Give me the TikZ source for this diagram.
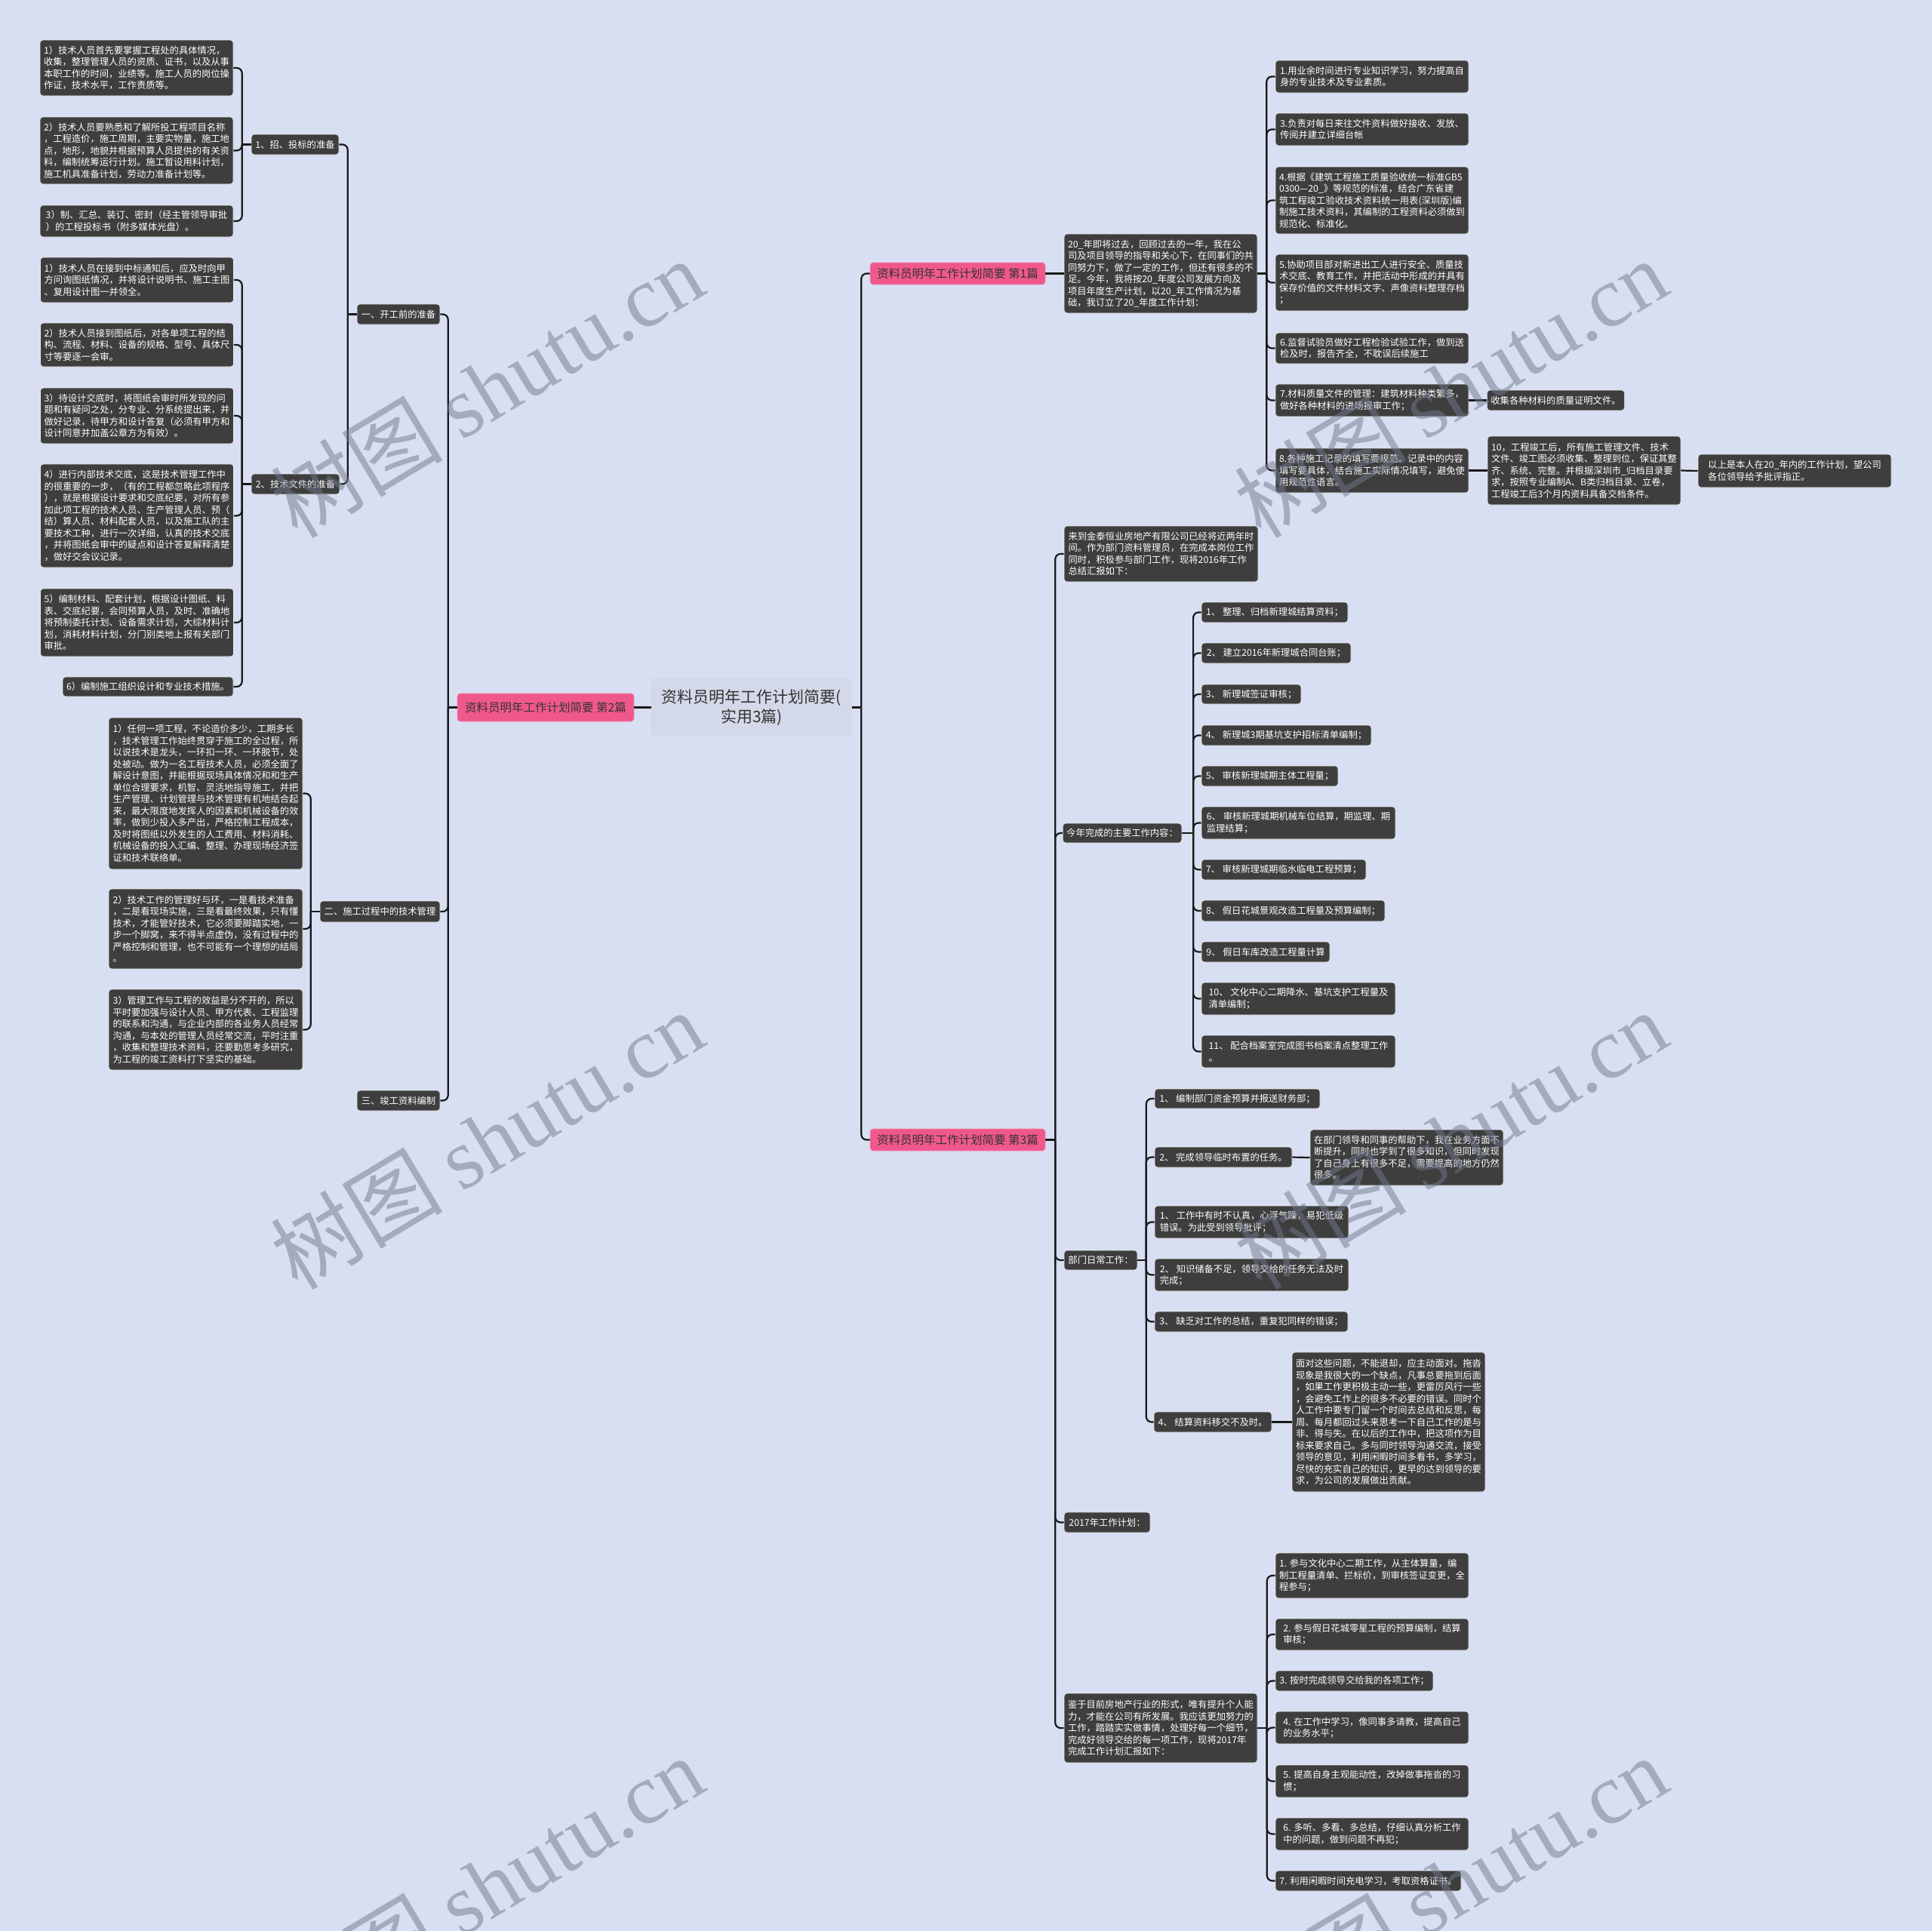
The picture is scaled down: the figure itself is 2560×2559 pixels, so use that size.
\documentclass[tikz,border=0pt]{standalone}
\usepackage{fontspec}
\newfontfamily\cjk{Noto Sans CJK SC}
\newfontfamily\wmserif{Liberation Serif}
\definecolor{bgc}{RGB}{217,223,242}
\definecolor{nodefill}{RGB}{62,62,62}
\definecolor{linec}{RGB}{25,25,25}
\definecolor{pinkc}{RGB}{240,88,140}
\definecolor{rootc}{RGB}{211,217,232}
\definecolor{darktext}{RGB}{51,51,51}
\definecolor{wmc}{RGB}{113,121,142}
\tikzset{
  box/.style={rectangle, rounded corners=4pt, fill=nodefill, draw=white!85!gray, line width=0.6pt,
    text=white, font=\cjk\fontsize{12.3}{15.5}\selectfont, align=left, inner xsep=5pt, inner ysep=2pt},
  pinkbox/.style={box, fill=pinkc, draw=pinkc!70!white, text=darktext, font=\cjk\fontsize{15.5}{19}\selectfont},
  rootbox/.style={box, fill=rootc, draw=rootc, text=darktext, font=\cjk\fontsize{21}{26}\selectfont, align=center},
  conn/.style={draw=linec, line width=2.2pt},
  elbow/.style={conn, rounded corners=7pt},
  wm/.style={text=wmc, opacity=0.5, font=\cjk\fontsize{114}{120}\selectfont, inner sep=0pt}
}
\newcommand\mybox[7][box]{%
  \pgfmathsetmacro\mybw{#5-#3}%
  \pgfmathsetmacro\mybh{#6-#4}%
  \pgfmathsetmacro\mycx{(#3+#5)/2}%
  \pgfmathsetmacro\mycy{(#4+#6)/2}%
  \node[#1, minimum width=\mybw pt, minimum height=\mybh pt] (#2) at (\mycx,\mycy) {#7};%
}
\begin{document}
\begin{tikzpicture}[x=1pt,y=-1pt]
\fill[bgc] (0,0) rectangle (2560,2559);
\useasboundingbox (0,0) rectangle (2560,2559);

% ---------------- root and pink ----------------
\mybox[rootbox]{root}{863}{899}{1129}{976}{资料员明年工作计划简要(\\实用3篇)}
\mybox[pinkbox]{pa}{1153}{348}{1385}{377}{资料员明年工作计划简要 第1篇}
\mybox[pinkbox]{pb}{606}{919}{840}{956}{资料员明年工作计划简要 第2篇}
\mybox[pinkbox]{pc}{1153}{1496}{1385}{1525}{资料员明年工作计划简要 第3篇}

% ---------------- left (第2篇) ----------------
\mybox{L1a}{53}{53}{309}{127}{1）技术人员首先要掌握工程处的具体情况，\\收集，整理管理人员的资质、证书，以及从事\\本职工作的时间，业绩等。施工人员的岗位操\\作证，技术水平，工作责质等。}
\mybox{L1b}{53}{155}{309}{244}{2）技术人员要熟悉和了解所投工程项目名称\\，工程造价，施工周期，主要实物量，施工地\\点，地形，地貌并根据预算人员提供的有关资\\料，编制统筹运行计划。施工暂设用料计划，\\施工机具准备计划，劳动力准备计划等。}
\mybox{L1c}{53}{272}{309}{314}{3）制、汇总、装订、密封（经主管领导审批\\）的工程投标书（附多媒体光盘）。}
\mybox{n11}{333}{178}{449}{205}{1、招、投标的准备}

\mybox{L2a}{54}{341}{309}{401}{1）技术人员在接到中标通知后，应及时向甲\\方问询图纸情况，并将设计说明书、施工主图\\、复用设计图一并领全。}
\mybox{L2b}{54}{428}{309}{486}{2）技术人员接到图纸后，对各单项工程的结\\构、流程、材料、设备的规格、型号、具体尺\\寸等要逐一会审。}
\mybox{L2c}{54}{514}{309}{588}{3）待设计交底时，将图纸会审时所发现的问\\题和有疑问之处，分专业、分系统提出来，并\\做好记录，待甲方和设计答复（必须有甲方和\\设计同意并加盖公章方为有效）。}
\mybox{L2d}{54}{615}{309}{752}{4）进行内部技术交底，这是技术管理工作中\\的很重要的一步，（有的工程都忽略此项程序\\），就是根据设计要求和交底纪要，对所有参\\加此项工程的技术人员、生产管理人员、预（\\结）算人员、材料配套人员，以及施工队的主\\要技术工种，进行一次详细，认真的技术交底\\，并将图纸会审中的疑点和设计答复解释清楚\\，做好交会议记录。}
\mybox{L2e}{54}{780}{309}{870}{5）编制材料、配套计划，根据设计图纸、料\\表、交底纪要，会同预算人员，及时、准确地\\将预制委托计划、设备需求计划，大综材料计\\划，消耗材料计划，分门别类地上报有关部门\\审批。}
\mybox{L2f}{83}{897}{309}{923}{6）编制施工组织设计和专业技术措施。}
\mybox{n12}{333}{628}{450}{655}{2、技术文件的准备}
\mybox{n1}{473}{403}{583}{430}{一、开工前的准备}

\mybox{L3a}{144}{951}{401}{1152}{1）任何一项工程，不论造价多少，工期多长\\，技术管理工作始终贯穿于施工的全过程，所\\以说技术是龙头，一环扣一环、一环脱节，处\\处被动。做为一名工程技术人员，必须全面了\\解设计意图，并能根据现场具体情况和和生产\\单位合理要求，机智、灵活地指导施工，并把\\生产管理、计划管理与技术管理有机地结合起\\来，最大限度地发挥人的因素和机械设备的效\\率，做到少投入多产出，严格控制工程成本，\\及时将图纸以外发生的人工费用、材料消耗、\\机械设备的投入汇编、整理、办理现场经济签\\证和技术联络单。}
\mybox{L3b}{144}{1178}{401}{1284}{2）技术工作的管理好与环，一是看技术准备\\，二是看现场实施，三是看最终效果，只有懂\\技术，才能管好技术，它必须要脚踏实地，一\\步一个脚窝，来不得半点虚伪，没有过程中的\\严格控制和管理，也不可能有一个理想的结局\\。}
\mybox{L3c}{144}{1311}{401}{1418}{3）管理工作与工程的效益是分不开的，所以\\平时要加强与设计人员、甲方代表、工程监理\\的联系和沟通，与企业内部的各业务人员经常\\沟通，与本处的管理人员经常交流，平时注重\\，收集和整理技术资料，还要勤思考多研究，\\为工程的竣工资料打下坚实的基础。}
\mybox{n2}{424}{1194}{583}{1222}{二、施工过程中的技术管理}
\mybox{n3}{473}{1445}{583}{1472}{三、竣工资料编制}

% ---------------- right (第1篇) ----------------
\mybox{R1i}{1410}{310}{1666}{415}{20\_年即将过去，回顾过去的一年，我在公\\司及项目领导的指导和关心下，在同事们的共\\同努力下，做了一定的工作，但还有很多的不\\足。今年，我将按20\_年度公司发展方向及\\项目年度生产计划，以20\_年工作情况为基\\础，我订立了20\_年度工作计划：}
\mybox{R1a}{1690}{80}{1946}{123}{1.用业余时间进行专业知识学习，努力提高自\\身的专业技术及专业素质。}
\mybox{R1c}{1690}{150}{1946}{193}{3.负责对每日来往文件资料做好接收、发放、\\传阅并建立详细台帐}
\mybox{R1d}{1690}{221}{1946}{310}{4.根据《建筑工程施工质量验收统一标准GB5\\0300—20\_》等规范的标准，结合广东省建\\筑工程竣工验收技术资料统一用表(深圳版)编\\制施工技术资料，其编制的工程资料必须做到\\规范化、标准化。}
\mybox{R1e}{1690}{337}{1946}{412}{5.协助项目部对新进出工人进行安全、质量技\\术交底、教育工作，并把活动中形成的并具有\\保存价值的文件材料文字、声像资料整理存档\\；}
\mybox{R1f}{1690}{441}{1946}{482}{6.监督试验员做好工程检验试验工作，做到送\\检及时，报告齐全，不耽误后续施工}
\mybox{R1g}{1690}{509}{1946}{552}{7.材料质量文件的管理：建筑材料种类繁多，\\做好各种材料的进场报审工作；}
\mybox{R1gc}{1971}{517}{2152}{544}{收集各种材料的质量证明文件。}
\mybox{R1h}{1690}{594}{1946}{653}{8.各种施工记录的填写要规范。记录中的内容\\填写要具体，结合施工实际情况填写，避免使\\用规范性语言。}
\mybox{R1hc}{1971}{578}{2227}{669}{10，工程竣工后，所有施工管理文件、技术\\文件、竣工图必须收集、整理到位，保证其整\\齐、系统、完整。并根据深圳市\_归档目录要\\求，按照专业编制A、B类归档目录、立卷，\\工程竣工后3个月内资料具备交档条件。}
\mybox{R1hcc}{2250}{602}{2506}{646}{以上是本人在20\_年内的工作计划，望公司\\各位领导给予批评指正。}

% ---------------- right (第3篇) ----------------
\mybox{R3i}{1410}{697}{1667}{771}{来到金泰恒业房地产有限公司已经将近两年时\\间。作为部门资料管理员，在完成本岗位工作\\同时，积极参与部门工作，现将2016年工作\\总结汇报如下：}
\mybox{R3y}{1409}{1091}{1565}{1117}{今年完成的主要工作内容：}
\mybox{I1}{1592}{798}{1786}{825}{1、 整理、归档新理城结算资料；}
\mybox{I2}{1592}{852}{1790}{879}{2、 建立2016年新理城合同台账；}
\mybox{I3}{1592}{907}{1724}{933}{3、 新理城签证审核；}
\mybox{I4}{1592}{961}{1817}{988}{4、 新理城3期基坑支护招标清单编制；}
\mybox{I5}{1592}{1015}{1773}{1042}{5、 审核新理城期主体工程量；}
\mybox{I6}{1592}{1069}{1849}{1112}{6、 审核新理城期机械车位结算，期监理、期\\监理结算；}
\mybox{I7}{1592}{1139}{1810}{1166}{7、 审核新理城期临水临电工程预算；}
\mybox{I8}{1592}{1193}{1835}{1221}{8、 假日花城景观改造工程量及预算编制；}
\mybox{I9}{1592}{1248}{1762}{1275}{9、 假日车库改造工程量计算}
\mybox{I10}{1592}{1302}{1849}{1345}{10、 文化中心二期降水、基坑支护工程量及\\清单编制；}
\mybox{I11}{1592}{1372}{1849}{1415}{11、 配合档案室完成图书档案清点整理工作\\。}

\mybox{R3d}{1410}{1657}{1507}{1683}{部门日常工作：}
\mybox{D1}{1530}{1443}{1749}{1469}{1、 编制部门资金预算并报送财务部；}
\mybox{D2}{1530}{1520}{1712}{1547}{2、 完成领导临时布置的任务。}
\mybox{D2c}{1736}{1497}{1992}{1571}{在部门领导和同事的帮助下，我在业务方面不\\断提升，同时也学到了很多知识，但同时发现\\了自己身上有很多不足，需要提高的地方仍然\\很多。}
\mybox{D3}{1530}{1598}{1787}{1641}{1、 工作中有时不认真，心浮气躁，易犯低级\\错误。为此受到领导批评；}
\mybox{D4}{1530}{1668}{1787}{1711}{2、 知识储备不足，领导交给的任务无法及时\\完成；}
\mybox{D5}{1530}{1738}{1786}{1765}{3、 缺乏对工作的总结，重复犯同样的错误；}
\mybox{D6}{1529}{1871}{1685}{1898}{4、 结算资料移交不及时。}
\mybox{D6c}{1712}{1792}{1968}{1977}{面对这些问题，不能退却，应主动面对。拖沓\\现象是我很大的一个缺点，凡事总要拖到后面\\，如果工作更积极主动一些，更雷厉风行一些\\，会避免工作上的很多不必要的错误。同时个\\人工作中要专门留一个时间去总结和反思，每\\周、每月都回过头来思考一下自己工作的是与\\非、得与失。在以后的工作中，把这项作为目\\标来要求自己。多与同时领导沟通交流，接受\\领导的意见，利用闲暇时间多看书，多学习，\\尽快的充实自己的知识，更早的达到领导的要\\求，为公司的发展做出贡献。}

\mybox{R3p}{1410}{2004}{1524}{2031}{2017年工作计划：}
\mybox{R3j}{1410}{2244}{1666}{2336}{鉴于目前房地产行业的形式，唯有提升个人能\\力，才能在公司有所发展。我应该更加努力的\\工作，踏踏实实做事情，处理好每一个细节，\\完成好领导交给的每一项工作，现将2017年\\完成工作计划汇报如下：}
\mybox{P1}{1690}{2058}{1946}{2118}{1. 参与文化中心二期工作，从主体算量，编\\制工程量清单、拦标价，到审核签证变更，全\\程参与；}
\mybox{P2}{1690}{2145}{1946}{2187}{2. 参与假日花城零星工程的预算编制，结算\\审核；}
\mybox{P3}{1690}{2214}{1899}{2241}{3. 按时完成领导交给我的各项工作；}
\mybox{P4}{1690}{2268}{1946}{2311}{4. 在工作中学习，像同事多请教，提高自己\\的业务水平；}
\mybox{P5}{1690}{2339}{1946}{2382}{5. 提高自身主观能动性，改掉做事拖沓的习\\惯；}
\mybox{P6}{1690}{2409}{1946}{2452}{6. 多听、多看、多总结，仔细认真分析工作\\中的问题，做到问题不再犯；}
\mybox{P7}{1690}{2479}{1936}{2506}{7. 利用闲暇时间充电学习，考取资格证书。}

% ---------------- connectors ----------------
% root
\draw[conn] (root.west) -- (pb.east);
\draw[conn] (root.east) -- ++(12,0) coordinate (tr);
\foreach \c in {pa,pc} \draw[elbow] (tr) |- (\c.west);

% left tree
\draw[conn] (pb.west) -- ++(-12,0) coordinate (tpb);
\foreach \c in {n1,n2,n3} \draw[elbow] (tpb) |- (\c.east);
\draw[conn] (n1.west) -- ++(-12,0) coordinate (tn1);
\foreach \c in {n11,n12} \draw[elbow] (tn1) |- (\c.east);
\draw[conn] (n11.west) -- ++(-12,0) coordinate (tn11);
\foreach \c in {L1a,L1b,L1c} \draw[elbow] (tn11) |- (\c.east);
\draw[conn] (n12.west) -- ++(-12,0) coordinate (tn12);
\foreach \c in {L2a,L2b,L2c,L2d,L2e,L2f} \draw[elbow] (tn12) |- (\c.east);
\draw[conn] (n2.west) -- ++(-12,0) coordinate (tn2);
\foreach \c in {L3a,L3b,L3c} \draw[elbow] (tn2) |- (\c.east);

% right 1
\draw[conn] (pa.east) -- (R1i.west);
\draw[conn] (R1i.east) -- ++(12,0) coordinate (tr1);
\foreach \c in {R1a,R1c,R1d,R1e,R1f,R1g,R1h} \draw[elbow] (tr1) |- (\c.west);
\draw[conn] (R1g.east) -- (R1gc.west);
\draw[conn] (R1h.east) -- (R1hc.west);
\draw[conn] (R1hc.east) -- (R1hcc.west);

% right 3
\draw[conn] (pc.east) -- ++(13,0) coordinate (tr3);
\foreach \c in {R3i,R3y,R3d,R3p,R3j} \draw[elbow] (tr3) |- (\c.west);
\draw[conn] (R3y.east) -- ++(15,0) coordinate (ty);
\foreach \c in {I1,I2,I3,I4,I5,I6,I7,I8,I9,I10,I11} \draw[elbow] (ty) |- (\c.west);
\draw[conn] (R3d.east) -- ++(11.5,0) coordinate (td);
\foreach \c in {D1,D2,D3,D4,D5,D6} \draw[elbow] (td) |- (\c.west);
\draw[conn] (D2.east) -- (D2c.west);
\draw[conn] (D6.east) -- (D6c.west);
\draw[conn] (R3j.east) -- ++(12.5,0) coordinate (tj);
\foreach \c in {P1,P2,P3,P4,P5,P6,P7} \draw[elbow] (tj) |- (\c.west);

% ---------------- watermarks ----------------
\foreach \wx/\wy [count=\i] in {645/514, 1922/514, 645/1510, 1922/1510, 645/2498, 1922/2498}
  \node[wm, rotate=31] (wm\i) at (\wx,\wy) {树图 {\wmserif shutu.cn}};
\end{tikzpicture}
\end{document}
